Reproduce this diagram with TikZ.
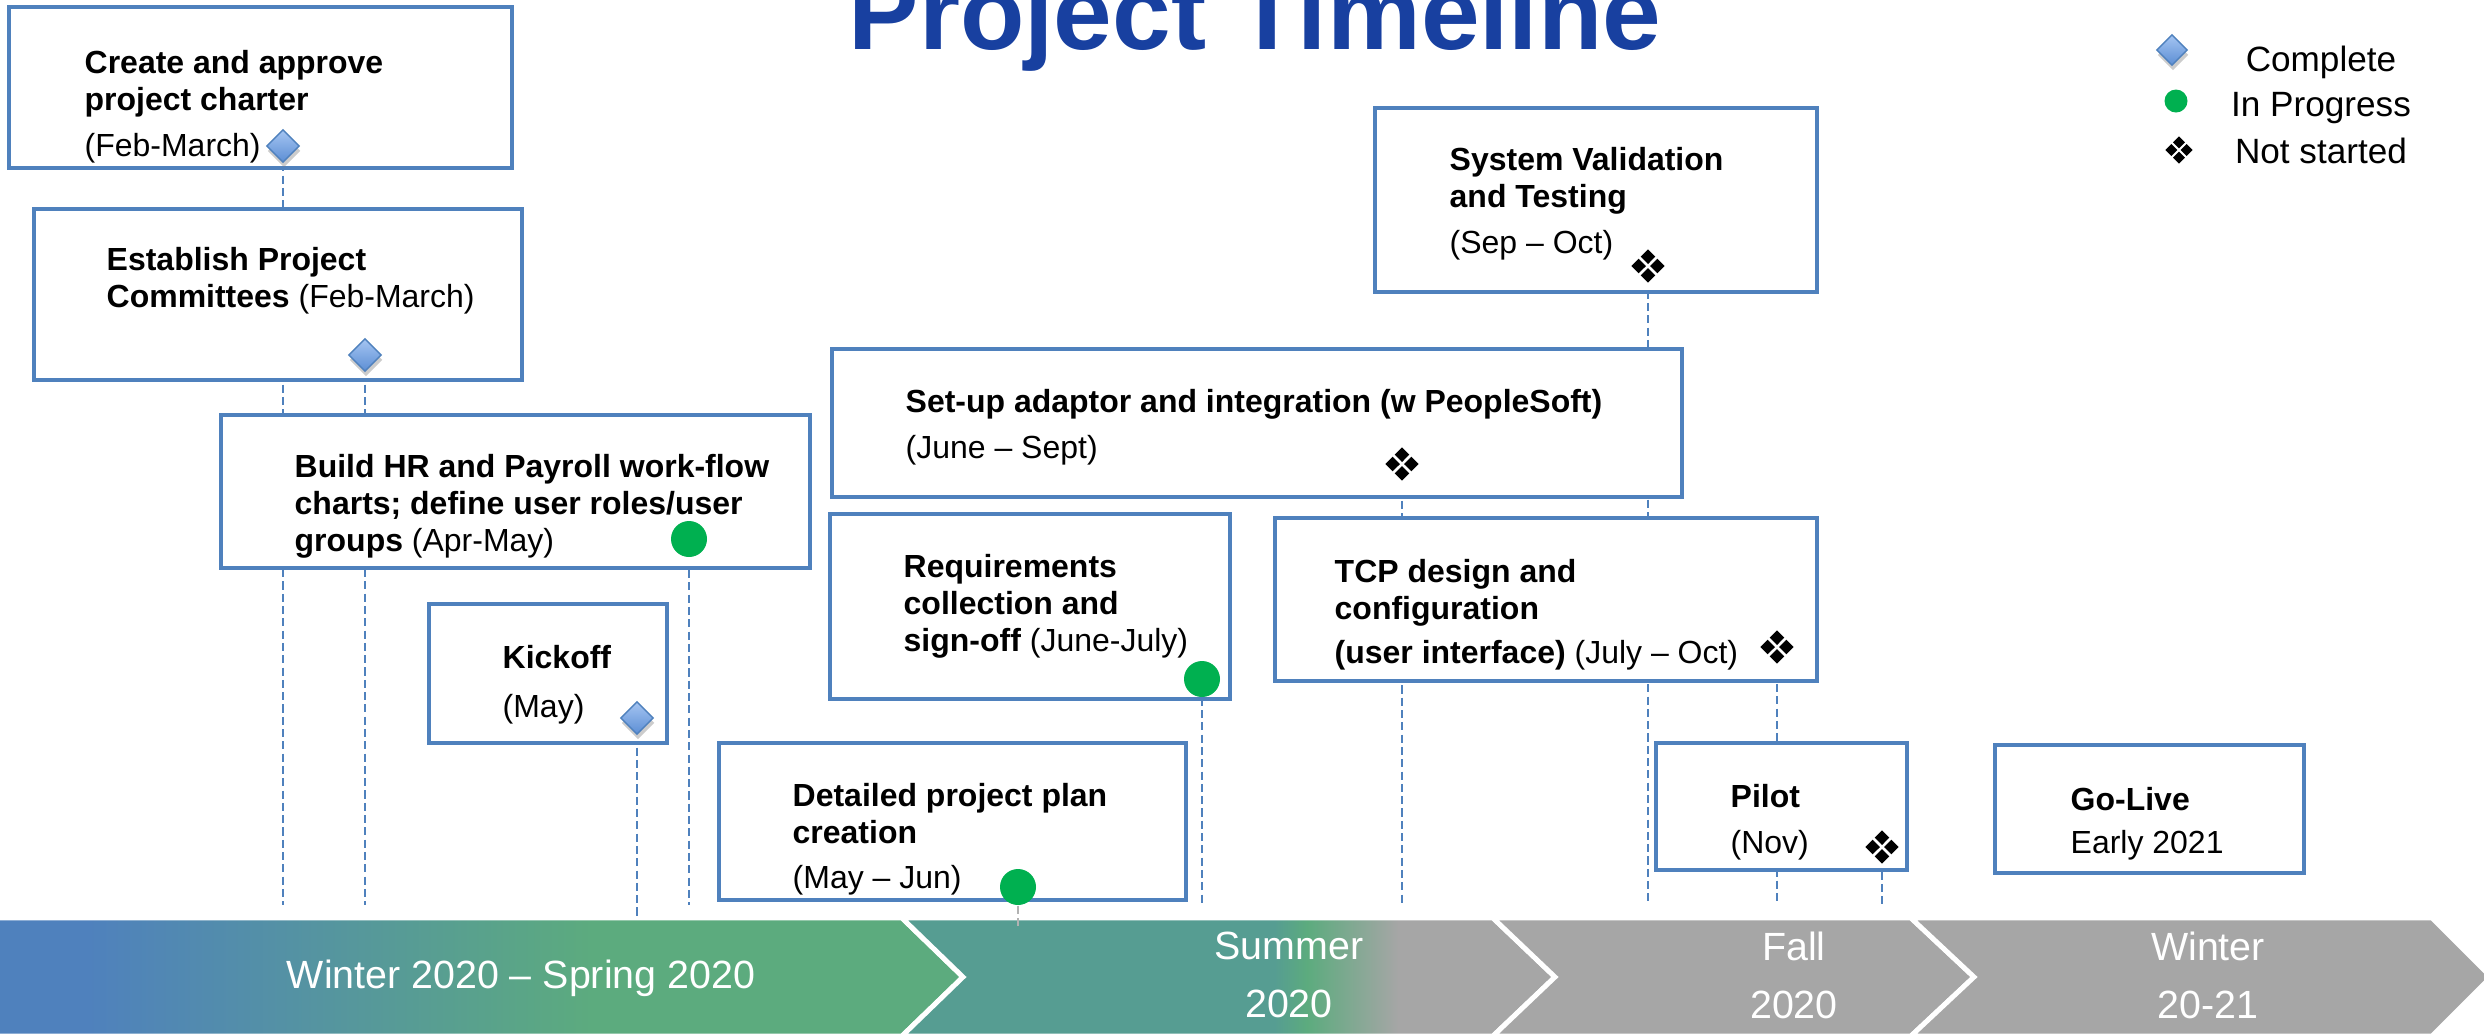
\documentclass[tikz,border=0pt]{standalone}
\usepackage{fontspec}
\setmainfont{Liberation Sans}
\usetikzlibrary{shapes.geometric,shadows,backgrounds}

\definecolor{tlBlue}{RGB}{79,129,189}
\definecolor{tlGreen}{RGB}{92,171,126}
\definecolor{tlTeal}{RGB}{86,157,146}
\definecolor{tlGrey}{RGB}{166,166,166}
\definecolor{tlDot}{RGB}{0,176,80}
\definecolor{tlTitle}{RGB}{24,64,160}
\definecolor{tlDiaTop}{RGB}{165,197,242}
\definecolor{tlDiaBot}{RGB}{92,142,212}

\pgfdeclarehorizontalshading{springband}{100bp}{color(0bp)=(tlBlue); color(30bp)=(tlBlue); color(56bp)=(tlGreen); color(100bp)=(tlGreen)}
\pgfdeclarehorizontalshading{summerband}{100bp}{color(0bp)=(tlTeal); color(53.5bp)=(tlTeal); color(56bp)=(tlGreen); color(63bp)=(tlGrey); color(100bp)=(tlGrey)}

\tikzset{
  phase/.style={draw=tlBlue, line width=1.15pt, fill=white, inner sep=0pt, anchor=north west},
  boxtext/.style={anchor=north west, inner sep=0pt, align=left, font=\fontsize{9.1}{10.5}\selectfont},
  keytext/.style={anchor=base, inner sep=0pt, font=\fontsize{10}{12}\selectfont},
  season/.style={text=white, inner sep=0pt, align=center, font=\fontsize{11.2}{16.5}\selectfont},
  guide/.style={draw=tlBlue, line width=0.5pt, dash pattern=on 2.3pt off 1.2pt},
  complete/.style={diamond, aspect=1, minimum size=#1, inner sep=0pt, draw=tlBlue, line width=0.4pt,
    top color=tlDiaTop, bottom color=tlDiaBot,
    drop shadow={opacity=0.4, shadow xshift=0.3pt, shadow yshift=-1.4pt}},
  complete/.default=0.33cm,
  progress/.style={circle, fill=tlDot, minimum size=#1, inner sep=0pt},
  progress/.default=0.36cm,
  notstarted/.pic={
    \foreach \r in {0,90,180,270}
      \fill[black, rotate=\r] (0.02,0) -- (0.094,0.073) -- (0.167,0) -- (0.094,-0.073) -- cycle;
  }
}

\begin{document}
\begin{tikzpicture}
\useasboundingbox (0,0) rectangle (24.84,-10.35);

% title and key
\node[anchor=base, inner sep=0pt, text=tlTitle, font=\fontsize{30}{36}\selectfont\bfseries] (title) at (12.55,-0.49) {Project Timeline};
\node[complete=0.31cm] (key-done) at (21.72,-0.50) {};
\node[progress=0.23cm] (key-prog) at (21.76,-1.01) {};
\coordinate (key-none) at (21.79,-1.50);
\pic[scale=0.82] at (key-none) {notstarted};
\node[keytext] (key-done-t) at (23.21,-0.71) {Complete};
\node[keytext] (key-prog-t) at (23.21,-1.16) {In Progress};
\node[keytext] (key-none-t) at (23.21,-1.63) {Not started};

% task boxes
\node[phase, minimum width=5.03cm, minimum height=1.61cm] (charter) at (0.07,-0.05) {};
\node[phase, minimum width=4.88cm, minimum height=1.71cm] (committees) at (0.32,-2.07) {};
\node[phase, minimum width=5.89cm, minimum height=1.53cm] (workflow) at (2.19,-4.13) {};
\node[phase, minimum width=2.38cm, minimum height=1.39cm] (kickoff) at (4.27,-6.02) {};
\node[phase, minimum width=4.67cm, minimum height=1.57cm] (plan) at (7.17,-7.41) {};
\node[phase, minimum width=8.50cm, minimum height=1.48cm] (adaptor) at (8.30,-3.47) {};
\node[phase, minimum width=4.00cm, minimum height=1.85cm] (requirements) at (8.28,-5.12) {};
\node[phase, minimum width=5.42cm, minimum height=1.63cm] (tcp) at (12.73,-5.16) {};
\node[phase, minimum width=4.42cm, minimum height=1.84cm] (validation) at (13.73,-1.06) {};
\node[phase, minimum width=2.51cm, minimum height=1.27cm] (pilot) at (16.54,-7.41) {};
\node[phase, minimum width=3.09cm, minimum height=1.28cm] (golive) at (19.93,-7.43) {};

\node[boxtext] (charter-t) at (0.84,-0.50) {\textbf{Create and approve}\\\textbf{project charter}\\[2.6pt](Feb-March)};
\node[boxtext] (committees-t) at (1.06,-2.47) {\textbf{Establish Project}\\\textbf{Committees} (Feb-March)};
\node[boxtext] (workflow-t) at (2.94,-4.54) {\textbf{Build HR and Payroll work-flow}\\\textbf{charts; define user roles/user}\\\textbf{groups} (Apr-May)};
\node[boxtext] (kickoff-t) at (5.02,-6.45) {\textbf{Kickoff}\\[3.4pt](May)};
\node[boxtext] (plan-t) at (7.92,-7.83) {\textbf{Detailed project plan}\\\textbf{creation}\\[2.3pt](May -- Jun)};
\node[boxtext] (adaptor-t) at (9.05,-3.89) {\textbf{Set-up adaptor and integration (w PeopleSoft)}\\[2.6pt](June -- Sept)};
\node[boxtext] (requirements-t) at (9.03,-5.54) {\textbf{Requirements}\\\textbf{collection and}\\\textbf{sign-off} (June-July)};
\node[boxtext] (tcp-t) at (13.34,-5.59) {\textbf{TCP design and}\\\textbf{configuration}\\[2pt]\textbf{(user interface)} (July -- Oct)};
\node[boxtext] (validation-t) at (14.49,-1.47) {\textbf{System Validation}\\\textbf{and Testing}\\[2.6pt](Sep -- Oct)};
\node[boxtext] (pilot-t) at (17.30,-7.84) {\textbf{Pilot}\\[2.6pt](Nov)};
\node[boxtext] (golive-t) at (20.70,-7.87) {\textbf{Go-Live}\\[1.7pt]Early 2021};

% status marks
\node[complete] (charter-m) at (2.83,-1.46) {};
\node[complete] (committees-m) at (3.65,-3.55) {};
\node[progress] (workflow-m) at (6.89,-5.39) {};
\node[complete] (kickoff-m) at (6.37,-7.18) {};
\node[progress] (plan-m) at (10.18,-8.87) {};
\node[progress] (requirements-m) at (12.02,-6.79) {};
\coordinate (adaptor-m) at (14.02,-4.64);
\coordinate (tcp-m) at (17.77,-6.47);
\coordinate (validation-m) at (16.48,-2.66);
\coordinate (pilot-m) at (18.82,-8.47);
\foreach \m in {adaptor-m,tcp-m,validation-m,pilot-m}
  \pic at (\m) {notstarted};

% season band
\node[season, anchor=base] (s-spring) at (5.21,-9.88) {Winter 2020 -- Spring 2020};
\node[season, anchor=north] (s-summer) at (12.89,-9.31) {Summer\\2020};
\node[season, anchor=north] (s-fall) at (17.94,-9.31) {Fall\\2020};
\node[season, anchor=north] (s-winter) at (22.08,-9.31) {Winter\\20-21};

\coordinate (base) at (0,-9.05);
\coordinate (bandtop) at (0,-9.18);
\coordinate (stub) at (0,-9.28);

\begin{pgfonlayer}{background}
  \shade[shading=springband, draw=white, line width=1.4pt] (-0.1,-9.18) -- (9.02,-9.18) -- (9.63,-9.77) -- (9.02,-10.36) -- (-0.1,-10.36) -- cycle;
  \shade[shading=summerband, draw=white, line width=1.4pt] (9.02,-9.18) -- (14.93,-9.18) -- (15.55,-9.77) -- (14.93,-10.36) -- (9.02,-10.36) -- (9.63,-9.77) -- cycle;
  \fill[tlGrey, draw=white, line width=1.4pt] (14.93,-9.18) -- (19.11,-9.18) -- (19.74,-9.77) -- (19.11,-10.36) -- (14.93,-10.36) -- (15.55,-9.77) -- cycle;
  \fill[tlGrey, draw=white, line width=1.4pt] (19.11,-9.18) -- (24.32,-9.18) -- (24.91,-9.77) -- (24.32,-10.36) -- (19.11,-10.36) -- (19.74,-9.77) -- cycle;

  \draw[guide] (charter-m) -- (charter-m |- base);
  \draw[guide] (committees-m) -- (committees-m |- base);
  \draw[guide] (workflow-m) -- (workflow-m |- base);
  \draw[guide] (kickoff-m) -- (kickoff-m |- bandtop);
  \draw[guide, draw=gray!60] (plan-m) -- (plan-m |- stub);
  \draw[guide] (requirements-m) -- (requirements-m |- base);
  \draw[guide] (adaptor-m) -- (adaptor-m |- base);
  \draw[guide] (validation-m) -- (validation-m |- base);
  \draw[guide] (tcp-m) -- (tcp-m |- base);
  \draw[guide] (pilot-m) -- (pilot-m |- base);
\end{pgfonlayer}
\end{tikzpicture}
\end{document}
